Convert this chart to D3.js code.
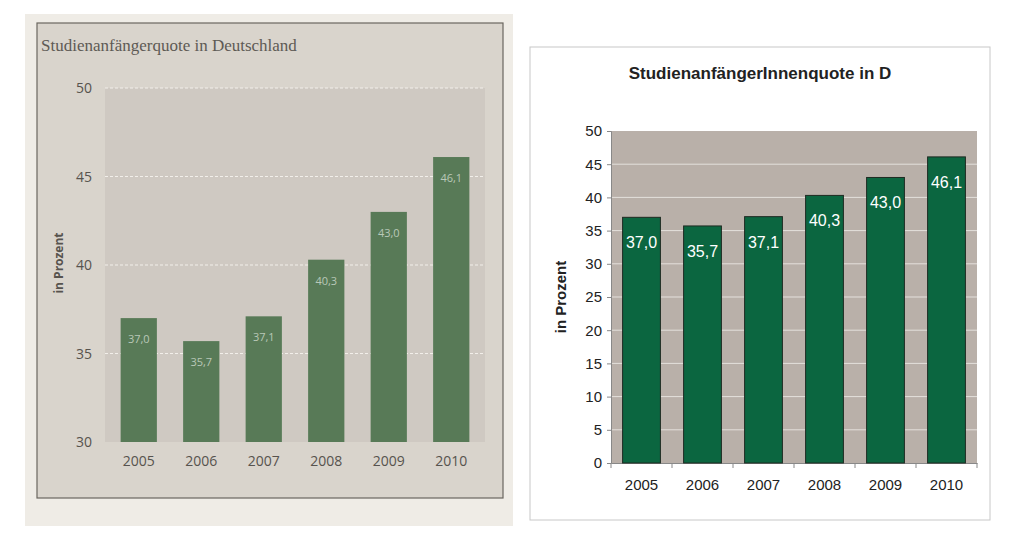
<!DOCTYPE html>
<html><head><meta charset="utf-8">
<script src="https://cdn.jsdelivr.net/npm/d3@7"></script>
<style>body{margin:0;background:#fff}svg{display:block}</style>
</head><body><svg id="c" width="1024" height="541"></svg>
<script>
const years = ["2005","2006","2007","2008","2009","2010"];
const values = [37.0, 35.7, 37.1, 40.3, 43.0, 46.1];
const labelsLeft = ["37,0","35,7","37,1","40,3","43,0","46,1"];
const labelsRight = ["37,0","35,7","37,1","40,3","43,0","46,1"];
const ticksLeft = [30,35,40,45,50];
const ticksRight = [0,5,10,15,20,25,30,35,40,45,50];

const svg = d3.select("#c");

// ---------- LEFT (scanned style) ----------
const L = svg.append("g");
L.append("rect").attr("x",25).attr("y",14).attr("width",488).attr("height",512).attr("fill","#efece6");
L.append("rect").attr("x",37).attr("y",23).attr("width",466).attr("height",475)
  .attr("fill","#d9d4cc").attr("stroke","#6a665f").attr("stroke-width",1.2);
L.append("text").attr("x",41).attr("y",51).text("Studienanfängerquote in Deutschland")
  .attr("font-family","Liberation Serif, serif").attr("font-size",17).attr("fill","#5e5a55");
const xl = d3.scaleBand().domain(years).range([105,485]).paddingInner(0.42).paddingOuter(0.25);
const yl = d3.scaleLinear().domain([30,50]).range([442,88]);
L.append("rect").attr("x",105).attr("y",88).attr("width",380).attr("height",354).attr("fill","#cfc9c2");
L.selectAll(".gl").data(ticksLeft.slice(1)).join("line")
  .attr("x1",105).attr("x2",485).attr("y1",d=>yl(d)).attr("y2",d=>yl(d))
  .attr("stroke","#f2efea").attr("stroke-dasharray","3,2").attr("stroke-width",1);
L.selectAll(".yt").data(ticksLeft).join("text")
  .attr("x",92).attr("y",d=>yl(d)+5).attr("text-anchor","end").text(d=>d)
  .attr("font-family","Open Sans, sans-serif").attr("font-size",14).attr("fill","#57534e");
L.selectAll(".bar").data(values).join("rect")
  .attr("x",(d,i)=>xl(years[i])).attr("width",xl.bandwidth())
  .attr("y",d=>yl(d)).attr("height",d=>yl(30)-yl(d)).attr("fill","#587a57");
L.selectAll(".bl").data(values).join("text")
  .attr("x",(d,i)=>xl(years[i])+xl.bandwidth()/2).attr("y",d=>yl(d)+25).attr("text-anchor","middle")
  .text((d,i)=>labelsLeft[i]).attr("font-family","Open Sans, sans-serif").attr("font-size",11).attr("fill","#b9c8b8");
L.selectAll(".xt").data(years).join("text")
  .attr("x",d=>xl(d)+xl.bandwidth()/2).attr("y",466).attr("text-anchor","middle").text(d=>d)
  .attr("font-family","Open Sans, sans-serif").attr("font-size",14).attr("fill","#57534e");
L.append("text").attr("transform","translate(63,263) rotate(-90)").attr("text-anchor","middle")
  .text("in Prozent").attr("font-family","Open Sans, sans-serif").attr("font-size",12).attr("font-weight","bold").attr("fill","#57534e");

// ---------- RIGHT (clean) ----------
const R = svg.append("g");
R.append("rect").attr("x",530).attr("y",47).attr("width",460).attr("height",473)
  .attr("fill","#fff").attr("stroke","#c8c8c8").attr("stroke-width",1);
R.append("text").attr("x",760).attr("y",79).attr("text-anchor","middle").text("StudienanfängerInnenquote in D")
  .attr("font-family","Liberation Sans, Arial, sans-serif").attr("font-size",17).attr("font-weight","bold").attr("fill","#222");
const xr = d3.scaleBand().domain(years).range([611,977]).paddingInner(0.38).paddingOuter(0.19);
const yr = d3.scaleLinear().domain([0,50]).range([463,131]);
R.append("rect").attr("x",611).attr("y",131).attr("width",366).attr("height",332).attr("fill","#b9b0a9");
R.selectAll(".gl").data(ticksRight.slice(1,-1)).join("line")
  .attr("x1",611).attr("x2",977).attr("y1",d=>yr(d)).attr("y2",d=>yr(d))
  .attr("stroke","#e4e0dc").attr("stroke-width",1);
const ya = R.append("g").attr("transform","translate(611,0)")
  .call(d3.axisLeft(yr).tickValues(ticksRight).tickSize(4).tickPadding(5));
const xa = R.append("g").attr("transform","translate(0,463)")
  .call(d3.axisBottom(xr).tickSize(0).tickPadding(16));
[ya,xa].forEach(a=>{a.select(".domain").attr("stroke","#888");
  a.selectAll("text").attr("font-family","Liberation Sans, Arial, sans-serif").attr("font-size",15).attr("fill","#222");
  a.selectAll("line").attr("stroke","#888");});
const step = xr.step();
R.selectAll(".xtk").data(d3.range(years.length+1)).join("line")
  .attr("x1",i=>611+i*step).attr("x2",i=>611+i*step).attr("y1",463).attr("y2",468).attr("stroke","#888");
R.selectAll(".bar").data(values).join("rect")
  .attr("x",(d,i)=>xr(years[i])).attr("width",xr.bandwidth())
  .attr("y",d=>yr(d)).attr("height",d=>yr(0)-yr(d)).attr("fill","#0b6640").attr("stroke","#1e2a22").attr("stroke-width",1);
R.selectAll(".bl").data(values).join("text")
  .attr("x",(d,i)=>xr(years[i])+xr.bandwidth()/2).attr("y",d=>yr(d)+31).attr("text-anchor","middle")
  .text((d,i)=>labelsRight[i]).attr("font-family","Liberation Sans, Arial, sans-serif").attr("font-size",16).attr("fill","#fff");
R.append("text").attr("transform","translate(566,297) rotate(-90)").attr("text-anchor","middle")
  .text("in Prozent").attr("font-family","Liberation Sans, Arial, sans-serif").attr("font-size",15).attr("font-weight","bold").attr("fill","#222");
</script></body></html>
